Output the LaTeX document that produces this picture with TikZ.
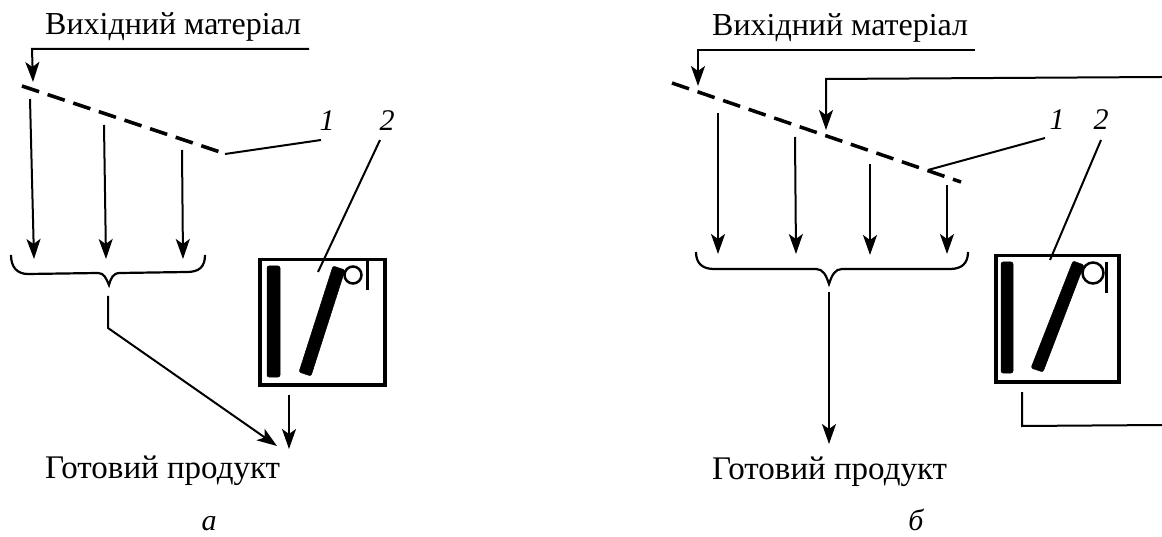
\documentclass[tikz,border=0pt]{standalone}
\usepackage{fontspec}
\setmainfont{Liberation Serif}
\usetikzlibrary{arrows.meta}
\tikzset{
  ln/.style={draw=black,line width=2pt},
  flow/.style={ln,-{Stealth[length=20pt,width=14pt,inset=5pt]}},
  sieve/.style={draw=black,line width=3.5pt,dash pattern=on 18pt off 9pt},
  bracepath/.style={draw=black,line width=2.2pt},
  cap1/.style={font=\fontsize{32}{36}\selectfont,anchor=base west,inner sep=0pt},
  cap2/.style={font=\fontsize{33}{36}\selectfont,anchor=base west,inner sep=0pt},
  num/.style={font=\itshape\fontsize{30}{34}\selectfont,anchor=base,inner sep=0pt},
  mill/.style={draw=black,line width=3.5pt,fill=none,inner sep=0pt,anchor=north west},
  bar/.style={fill=black,draw=black,line width=0.5pt,line join=round,rounded corners=2pt},
  ring/.style={draw=black,line width=2.5pt},
}
\begin{document}
\begin{tikzpicture}[x=1pt,y=-1pt]
\useasboundingbox (0,0) rectangle (1162,537);
\fill[white] (0,0) rectangle (1162,537);
% ---------- panel a
\node[cap1] (ta) at (45,35) {Вихідний матеріал};
\node[cap2] (pa) at (45,478) {Готовий продукт};
\node[num] (la) at (209,530) {a};
\node[num] (a1) at (327,131) {1};
\node[num] (a2) at (387,131) {2};
\coordinate (aIn) at (309,49);
\coordinate (aC) at (32,49);
\coordinate (aS) at (33,82);
\draw[flow] (aIn) -- (aC) -- (aS);
\coordinate (aD1) at (22,86);
\coordinate (aD2) at (226,154);
\draw[sieve] (aD1) -- (aD2);
\coordinate (a1s) at (30,99); \coordinate (a1e) at (34,259);
\coordinate (a2s) at (104,125); \coordinate (a2e) at (106,259);
\coordinate (a3s) at (182,150); \coordinate (a3e) at (183,259);
\draw[flow] (a1s) -- (a1e);
\draw[flow] (a2s) -- (a2e);
\draw[flow] (a3s) -- (a3e);
\draw[bracepath] (11,255) .. controls (11,267) and (17,274) .. (28,274) -- (98,273)
  .. controls (104,273) and (106,278) .. (109,285)
  .. controls (111,278) and (113,273) .. (120,273) -- (187,272)
  .. controls (199,272) and (205,267) .. (205,255);
\coordinate (aB) at (108,296);
\coordinate (aK) at (108,328);
\coordinate (aP) at (277,446);
\draw[flow] (aB) -- (aK) -- (aP);
\node[mill,minimum width=125pt,minimum height=125pt] (am) at (258,258) {};
\coordinate (amo) at (289,395); \coordinate (ame) at (289,449);
\draw[flow] (amo) -- (ame);
\fill[bar] (267,266) rectangle (280,377);
\fill[bar] (299,372) -- (311,376) -- (345,270) -- (333,266) -- cycle;
\draw[ring] (353,275) circle (8.5);
\draw[line width=3pt] (367,261) -- (367,290);
\coordinate (a1l) at (321,140); \coordinate (a1t) at (225,154);
\draw[ln] (a1l) -- (a1t);
\coordinate (a2l) at (380,140); \coordinate (a2t) at (318,272);
\draw[ln] (a2l) -- (a2t);
% ---------- panel b
\node[cap1] (tb) at (712,36) {Вихідний матеріал};
\node[cap2] (pb) at (712,479) {Готовий продукт};
\node[num] (lb) at (916,530) {б};
\node[num] (b1) at (1057,130) {1};
\node[num] (b2) at (1101,130) {2};
\coordinate (bIn) at (975,50);
\coordinate (bC) at (698,50);
\coordinate (bS) at (698,86);
\draw[flow] (bIn) -- (bC) -- (bS);
\coordinate (bD1) at (672,83);
\coordinate (bD2) at (961,182);
\draw[sieve] (bD1) -- (bD2);
\coordinate (bR) at (1162,77);
\coordinate (bRc) at (826,79);
\coordinate (bRe) at (826,130);
\draw[flow] (bR) -- (bRc) -- (bRe);
\coordinate (b1s) at (718,113); \coordinate (b1e) at (718,254);
\coordinate (b2s) at (795,137); \coordinate (b2e) at (796,254);
\coordinate (b3s) at (870,164); \coordinate (b3e) at (870,255);
\coordinate (b4s) at (947,185); \coordinate (b4e) at (947,254);
\draw[flow] (b1s) -- (b1e);
\draw[flow] (b2s) -- (b2e);
\draw[flow] (b3s) -- (b3e);
\draw[flow] (b4s) -- (b4e);
\draw[bracepath] (696,252) .. controls (696,263) and (702,269) .. (714,269) -- (816,269)
  .. controls (823,269) and (826,275) .. (829,284)
  .. controls (832,275) and (835,269) .. (842,269) -- (950,269)
  .. controls (962,269) and (968,263) .. (968,252);
\coordinate (bB) at (829,292); \coordinate (bBe) at (829,444);
\draw[flow] (bB) -- (bBe);
\node[mill,minimum width=123pt,minimum height=126pt] (bm) at (994,254) {};
\fill[bar] (1001,262) rectangle (1013,373);
\fill[bar] (1031,368) -- (1043,372) -- (1084,265) -- (1073,261) -- cycle;
\draw[ring] (1093,273) circle (10.5);
\draw[line width=3pt] (1106,262) -- (1106,293);
\coordinate (b1l) at (1045,138); \coordinate (b1t) at (928,170);
\draw[ln] (b1l) -- (b1t);
\coordinate (b2l) at (1101,140); \coordinate (b2t) at (1050,260);
\draw[ln] (b2l) -- (b2t);
\coordinate (bo) at (1022,392); \coordinate (boc) at (1022,426); \coordinate (boe) at (1162,425);
\draw[ln] (bo) -- (boc) -- (boe);
\end{tikzpicture}
\end{document}
